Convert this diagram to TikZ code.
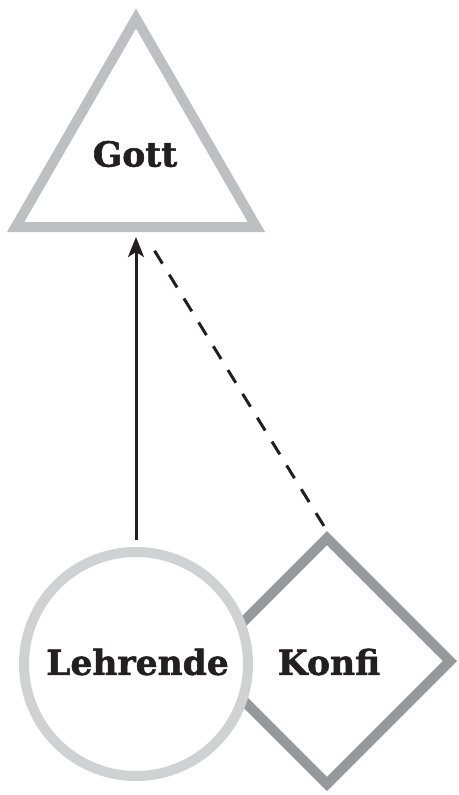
\documentclass[tikz,border=0pt]{standalone}
\usepackage{fontspec}
\setmainfont{DejaVu Serif}
\newfontfamily\heavyfont[FakeBold=1.6]{DejaVu Serif Bold}
\usetikzlibrary{shapes.geometric,arrows.meta}
\definecolor{triGray}{RGB}{189,191,194}
\definecolor{circGray}{RGB}{207,209,211}
\definecolor{diaGray}{RGB}{151,152,155}
\definecolor{ink}{RGB}{35,31,32}
\tikzset{
  lbl/.style={font=\heavyfont\fontsize{34.5}{34.5}\selectfont, text=ink},
  shapebox/.style={line width=10pt, inner sep=0pt, fill=white},
  conn/.style={line width=3pt, draw=ink}
}
\begin{document}
\begin{tikzpicture}[x=1pt,y=-1pt]
\useasboundingbox (0,0) rectangle (458,795);
\node[shapebox, diamond, draw=diaGray, minimum width=250pt, minimum height=250pt] (konfi) at (327,661) {};
\node[shapebox, circle, draw=circGray, minimum size=224pt] (lehr) at (136,664) {};
\node[shapebox, regular polygon, regular polygon sides=3, draw=triGray, minimum size=278pt] (gott) at (136,157.5) {};
\node[lbl] (gottT) at (135,154) {Gott};
\node[lbl] (lehrT) at (137.5,662) {Lehrende};
\node[lbl] (konfiT) at (329,662) {Konfi};
\coordinate (gd) at (143,232);
\draw[conn, -{Stealth[length=20pt,width=16pt,inset=5pt]}, shorten <=7pt, shorten >=5pt] (lehr.north) -- (gott.south);
\draw[conn, dash pattern=on 15pt off 13pt, shorten <=6pt, shorten >=13pt] (konfi.north) -- (gd);
\end{tikzpicture}
\end{document}
